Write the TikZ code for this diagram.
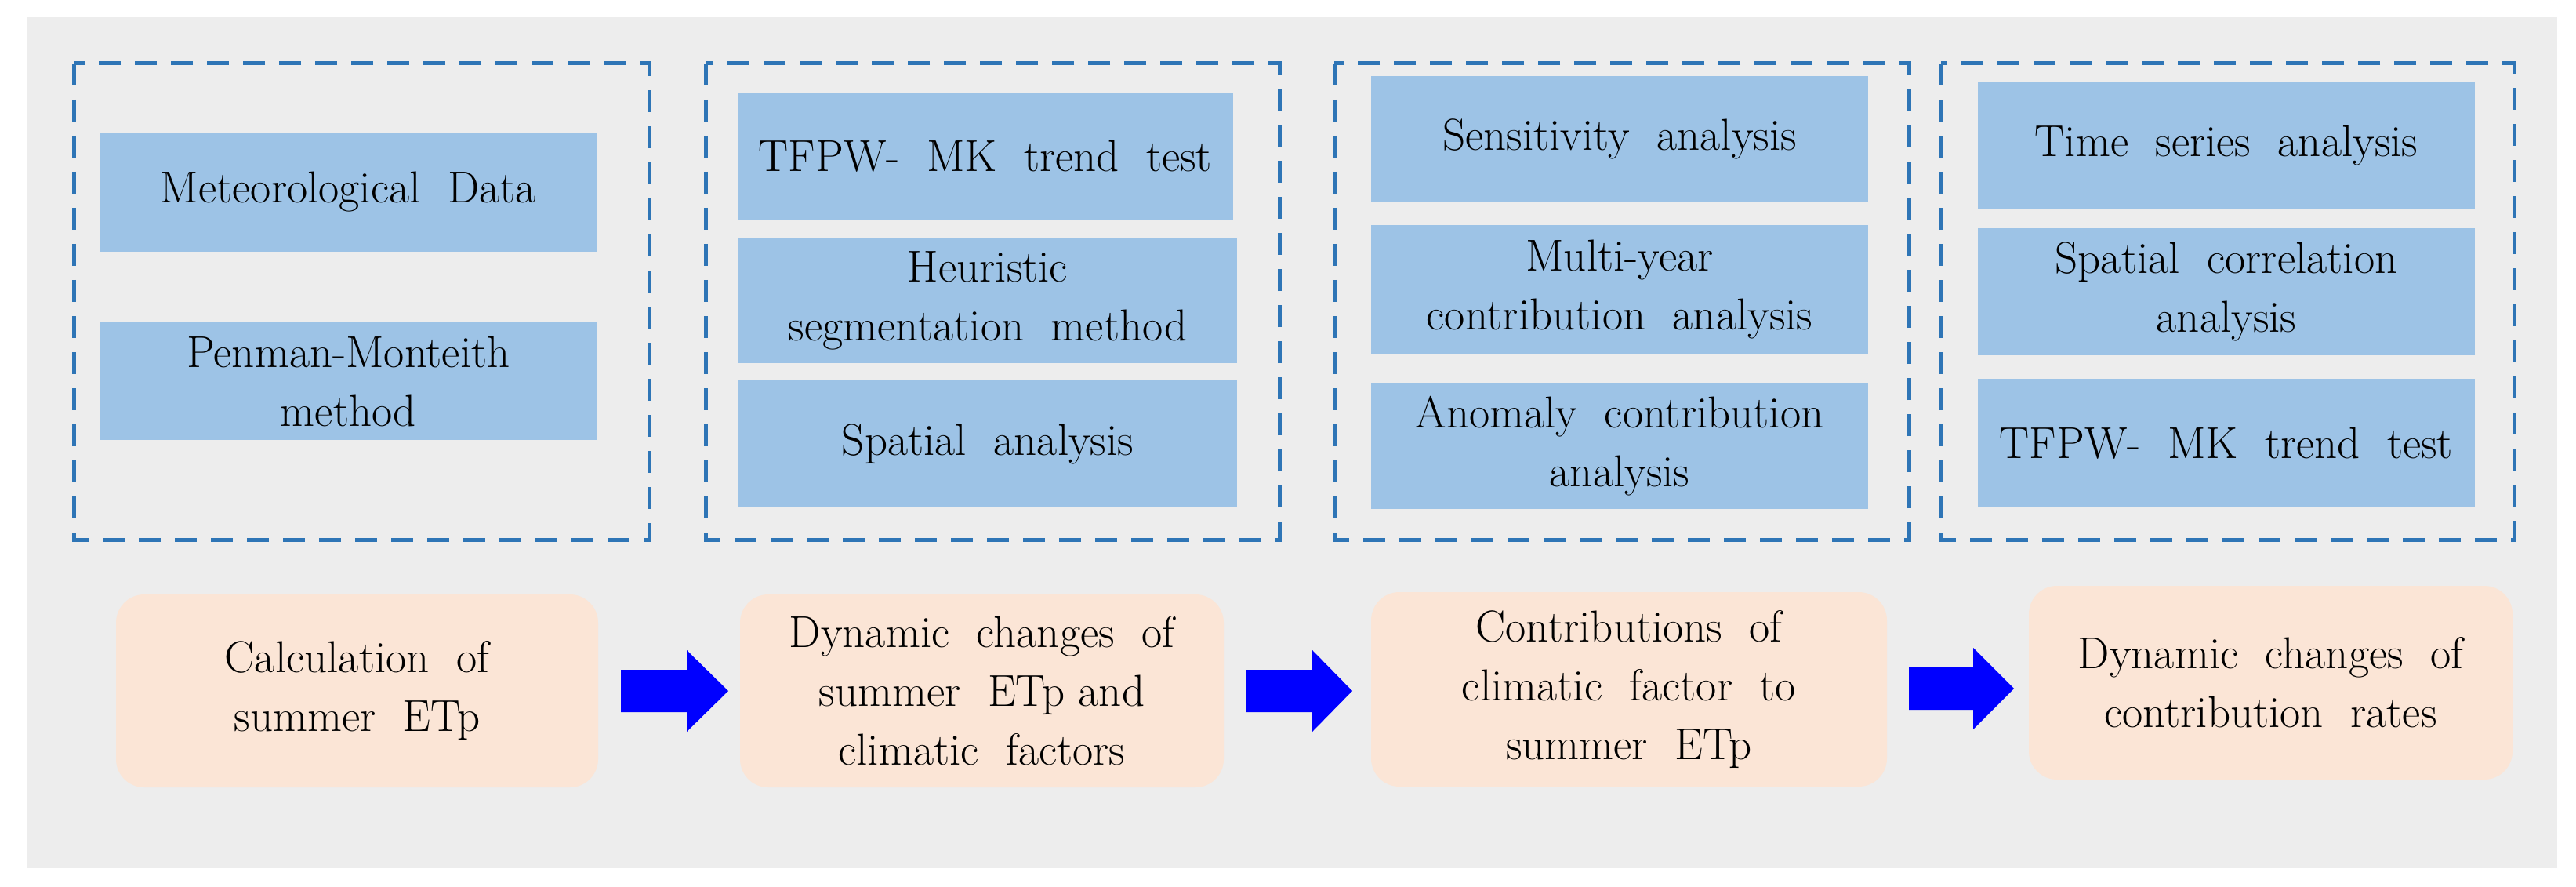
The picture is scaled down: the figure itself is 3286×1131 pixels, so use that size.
\documentclass[tikz,border=0pt]{standalone}
\usepackage{fontspec}
\usetikzlibrary{calc}
\definecolor{bgray}{HTML}{EDEDED}
\definecolor{lblue}{HTML}{9DC3E6}
\definecolor{peach}{HTML}{FBE5D6}
\definecolor{dashblue}{HTML}{2E75B6}
\definecolor{arrblue}{HTML}{0000FF}
\tikzset{
  methodbox/.style={fill=lblue, draw=none, inner sep=0pt, align=center,
    font=\fontsize{57}{75}\selectfont},
  stagebox/.style={fill=peach, draw=none, rounded corners=36pt, inner sep=0pt, align=center,
    font=\fontsize{57}{75}\selectfont},
  groupframe/.style={draw=dashblue, line width=5pt, dash pattern=on 28pt off 18pt},
  blockarrow/.style={fill=arrblue, draw=none}
}
\begin{document}
\begin{tikzpicture}[x=1pt,y=-1pt]
\useasboundingbox (0,0) rectangle (3286,1131);
\fill[white] (0,0) rectangle (3286,1131);
\fill[bgray] (34,22) rectangle (3262,1107);
% dashed group frames
\draw[groupframe] (94,81) rectangle (828,688);
\draw[groupframe] (900,81) rectangle (1632,688);
\draw[groupframe] (1702,81) rectangle (2435,688);
\draw[groupframe] (2476,81) rectangle (3207,688);
% column 1
\node[methodbox, minimum width=635pt, minimum height=152pt] (met) at (444.5,245) {Meteorological\ \ Data};
\node[methodbox, minimum width=635pt, minimum height=150pt] (pen) at (444.5,486) {Penman-Monteith\\method};
\node[stagebox, minimum width=615pt, minimum height=246pt] (calc) at (455.5,881) {Calculation\ \ of\\summer\ \ ETp};
% column 2
\node[methodbox, minimum width=632pt, minimum height=161pt] (tfpw) at (1257,199.5) {TFPW-\ \ MK\ \ trend\ \ test};
\node[methodbox, minimum width=636pt, minimum height=160pt] (heur) at (1260,383) {Heuristic\\segmentation\ \ method};
\node[methodbox, minimum width=636pt, minimum height=162pt] (spat) at (1260,566) {Spatial\ \ analysis};
\node[stagebox, minimum width=617pt, minimum height=246pt] (dyn) at (1252.5,881) {Dynamic\ \ changes\ \ of\\summer\ \ ETp and\\climatic\ \ factors};
% column 3
\node[methodbox, minimum width=634pt, minimum height=161pt] (sens) at (2066,177.5) {Sensitivity\ \ analysis};
\node[methodbox, minimum width=634pt, minimum height=164pt] (multi) at (2066,369) {Multi-year\\contribution\ \ analysis};
\node[methodbox, minimum width=634pt, minimum height=161pt] (anom) at (2066,568.5) {Anomaly\ \ contribution\\analysis};
\node[stagebox, minimum width=658pt, minimum height=248pt] (contr) at (2078,879) {Contributions\ \ of\\climatic\ \ factor\ \ to\\summer\ \ ETp};
% column 4
\node[methodbox, minimum width=634pt, minimum height=162pt] (time) at (2840,186) {Time\ \ series\ \ analysis};
\node[methodbox, minimum width=634pt, minimum height=162pt] (spcorr) at (2840,372) {Spatial\ \ correlation\\analysis};
\node[methodbox, minimum width=634pt, minimum height=164pt] (tfpwb) at (2840,565) {TFPW-\ \ MK\ \ trend\ \ test};
\node[stagebox, minimum width=617pt, minimum height=247pt] (rates) at (2896.5,870.5) {Dynamic\ \ changes\ \ of\\contribution\ \ rates};
% block arrows
\newcommand{\blkarrow}[4]{% start x, head x, tip x, center y
  \fill[blockarrow] (#1,#4-27) -- (#2,#4-27) -- (#2,#4-52) -- (#3,#4) -- (#2,#4+52) -- (#2,#4+27) -- (#1,#4+27) -- cycle;}
\blkarrow{792}{876}{929}{881}
\blkarrow{1589}{1674}{1725}{881}
\blkarrow{2435}{2517}{2569}{878}
\end{tikzpicture}
\end{document}
